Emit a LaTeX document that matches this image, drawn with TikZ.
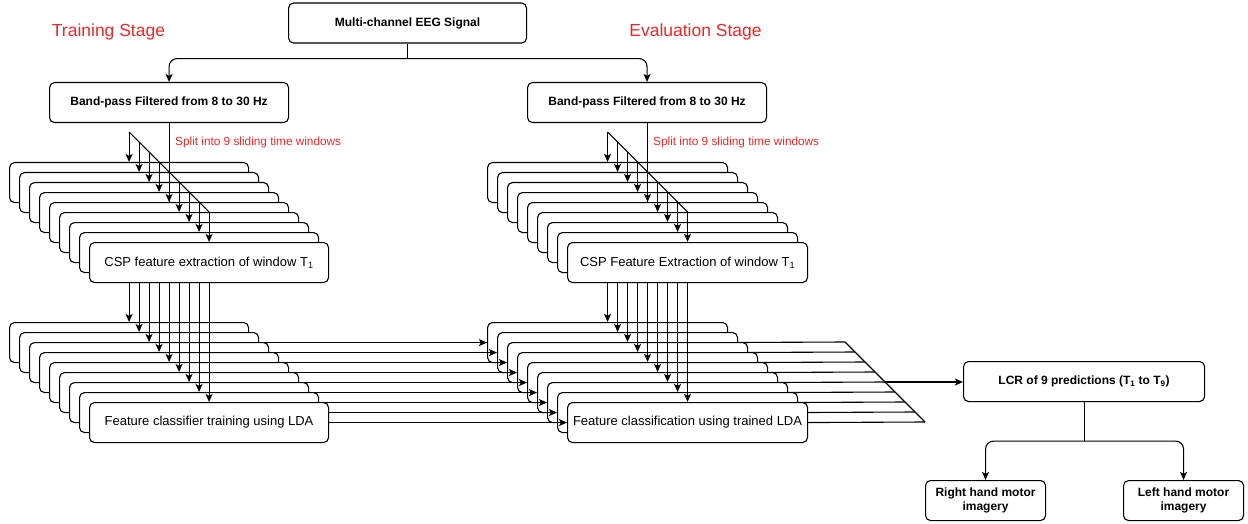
\documentclass[tikz,border=0pt]{standalone}
\usepackage{fontspec}
\setmainfont{Liberation Sans}
\usetikzlibrary{arrows.meta,calc}
\pgfdeclarelayer{bg}
\pgfsetlayers{bg,main}
\definecolor{stagered}{RGB}{232,40,40}
\begin{document}
\begin{tikzpicture}[x=1pt,y=-1pt,
  box/.style={draw, line width=1.1pt, rounded corners=5pt, fill=white, inner sep=0pt,
    anchor=north west, minimum height=40pt, align=center},
  wbox/.style={box, minimum width=239pt, font=\fontsize{13}{15}\selectfont},
  sbox/.style={box, font=\bfseries\fontsize{12}{14}\selectfont},
  arr/.style={line width=1.1pt, -{Stealth[length=8pt,width=7pt,inset=1.8pt]}},
  ln/.style={line width=1.1pt},
  stagetext/.style={font=\fontsize{17.5}{20}\selectfont, text=stagered},
  splittext/.style={font=\fontsize{11.8}{14}\selectfont, text=stagered, anchor=west, inner sep=0pt}
]
\useasboundingbox (0,0) rectangle (1248,524);

% top
\node[sbox, minimum width=238pt] (eeg) at (288,2.5) {Multi-channel EEG Signal};
\node[sbox, minimum width=239pt] (bpa) at (49,82) {Band-pass Filtered from 8 to 30 Hz};
\node[sbox, minimum width=239pt] (bpb) at (527,82) {Band-pass Filtered from 8 to 30 Hz};
\node[stagetext] (ts) at (108.5,32) {Training Stage};
\node[stagetext] (es) at (695.5,32) {Evaluation Stage};
\node[splittext] (spa) at (175,142) {Split into 9 sliding time windows};
\node[splittext] (spb) at (653,142) {Split into 9 sliding time windows};

\draw[ln] (eeg.south) -- ++(0,15) coordinate (j1);
\draw[arr, rounded corners=8pt] (j1) -| (bpa.north);
\draw[arr, rounded corners=8pt] (j1) -| (bpb.north);

% CSP stacks
\foreach \k in {0,...,7} {
  \node[wbox] (csa\k) at (9+10*\k,162+10*\k) {};
  \node[wbox, minimum width=240pt] (csb\k) at (487+10*\k,162+10*\k) {};
}
\node[wbox] (csa8) at (89,242) {CSP feature extraction of window T\textsubscript{1}};
\node[wbox, minimum width=240pt] (csb8) at (567,242) {CSP Feature Extraction of window T\textsubscript{1}};

\draw[ln] ([yshift=30pt]csa0.north) -- ([yshift=30pt]csa8.north);
\draw[ln] ([yshift=30pt]csb0.north) -- ([yshift=30pt]csb8.north);
\draw[ln] (bpa.south) -- (bpa.south |- csa4.north);
\draw[ln] (bpb.south) -- (bpb.south |- csb4.north);
\foreach \k in {0,...,8} {
  \draw[arr] ([yshift=30pt]csa\k.north) -- (csa\k.north);
  \draw[arr] ([yshift=30pt]csb\k.north) -- (csb\k.north);
}

% LDA stacks
\foreach \k in {0,...,7} {
  \node[wbox] (lda\k) at (9+10*\k,322+10*\k) {};
  \node[wbox, minimum width=240pt] (eda\k) at (487+10*\k,322+10*\k) {};
}
\node[wbox] (lda8) at (89,402) {Feature classifier training using LDA};
\node[wbox, minimum width=240pt] (eda8) at (567,402) {Feature classification using trained LDA};

\begin{pgfonlayer}{bg}
\foreach \k in {0,...,8} {
  \draw[ln] (lda\k.east) -- (eda\k.west);
  \coordinate (q\k) at (845+10*\k,342+10*\k);
  \draw[ln] (eda\k.east) -- (q\k);
}
\draw[ln] (q0) -- (q8);
\end{pgfonlayer}

\foreach \k in {0,...,8} {
  \draw[arr] ([xshift=-14pt]eda\k.west) -- (eda\k.west);
  \draw[arr] (csa8.south -| lda\k.north) -- (lda\k.north);
  \draw[arr] (csb8.south -| eda\k.north) -- (eda\k.north);
}

% result
\node[sbox, minimum width=241pt] (lcr) at (963,361) {LCR of 9 predictions (T\textsubscript{1} to T\textsubscript{9})};
\draw[arr] (q4) -- (q4 -| lcr.west);
\node[sbox, minimum width=120pt] (rh) at (925,480) {Right hand motor\\imagery};
\node[sbox, minimum width=120pt] (lh) at (1123,480) {Left hand motor\\imagery};
\draw[ln] (lcr.south) -- ++(0,39) coordinate (j2);
\draw[arr, rounded corners=8pt] (j2) -| (rh.north);
\draw[arr, rounded corners=8pt] (j2) -| (lh.north);
\end{tikzpicture}
\end{document}
